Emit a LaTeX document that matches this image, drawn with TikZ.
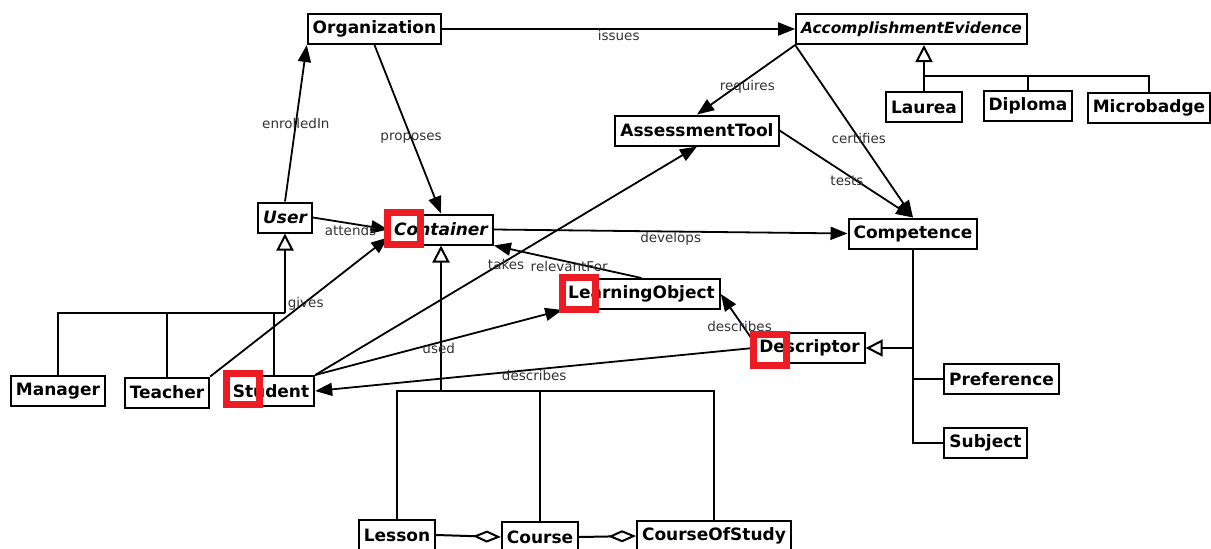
\documentclass[tikz,border=0pt]{standalone}
\usepackage{fontspec}
\setmainfont{DejaVu Sans}
\usepackage{tikz}
\usetikzlibrary{arrows.meta,calc}
\definecolor{ink}{HTML}{000000}
\definecolor{lbltext}{HTML}{333333}
\definecolor{hilite}{HTML}{ED1C24}
\tikzset{
  cls/.style={draw=ink, line width=2pt, fill=white, font=\fontsize{17}{20}\selectfont\bfseries,
    minimum height=30pt, inner xsep=5pt, inner ysep=0pt},
  abscls/.style={cls, font=\fontsize{17}{20}\selectfont\bfseries\itshape},
  assoc/.style={draw=ink, line width=1.8pt, -{Triangle[length=17pt,width=13pt]}},
  gen/.style={draw=ink, line width=2pt, -{Triangle[open,length=17pt,width=17pt,fill=white]}},
  tree/.style={draw=ink, line width=2pt},
  agg/.style={draw=ink, line width=2pt, -{Diamond[open,length=28pt,width=12pt,fill=white]}},
  lbl/.style={text=lbltext, font=\fontsize{13.5}{15}\selectfont, inner sep=0pt},
  hl/.style={draw=hilite, line width=7pt}
}

\begin{document}
\begin{tikzpicture}[x=1pt, y=-1pt]
  \useasboundingbox (0,0) rectangle (1211,549);
  % classes
  \node[cls] (Org) at (374.5,29) {Organization};
  \node[abscls, font=\fontsize{15.4}{18}\selectfont\bfseries\itshape, minimum width=229pt] (AE) at (911.5,29) {AccomplishmentEvidence};
  \node[cls] (Laurea) at (924,107) {Laurea};
  \node[cls] (Diploma) at (1028,105.5) {Diploma};
  \node[cls] (Microbadge) at (1149,107.5) {Microbadge};
  \node[cls] (AT) at (697,130.5) {AssessmentTool};
  \node[abscls] (User) at (285,217.5) {User};
  \node[abscls] (Container) at (441,229.5) {Container};
  \node[cls] (Competence) at (913,233.5) {Competence};
  \node[cls] (LO) at (641.5,294) {LearningObject};
  \node[cls] (Descriptor) at (809.5,348) {Descriptor};
  \node[cls] (Manager) at (58,391) {Manager};
  \node[cls] (Teacher) at (167,392.5) {Teacher};
  \node[cls] (Student) at (271,391) {Student};
  \node[cls] (Preference) at (1001.5,379) {Preference};
  \node[cls] (Subject) at (985.5,443) {Subject};
  \node[cls] (Lesson) at (397,535) {Lesson};
  \node[cls] (Course) at (540,537) {Course};
  \node[cls] (CoS) at (714,536) {CourseOfStudy};

  % generalisations
  \coordinate (uJ) at (285,313);
  \draw[gen] (uJ) -- (User.south);
  \draw[tree] (Manager.north) |- (uJ);
  \draw[tree] (Teacher.north) -- (Teacher.north |- uJ);
  \draw[tree] ([xshift=3pt]Student.north) -- ([xshift=3pt]Student.north |- uJ);

  \coordinate (cJ) at (441,391);
  \draw[gen] (cJ) -- (Container.south);
  \draw[tree] (Lesson.north) |- (cJ);
  \draw[tree] (Course.north) |- (cJ);
  \draw[tree] (CoS.north) |- (cJ);

  \coordinate (aJ) at (924,76);
  \draw[gen] (aJ) -- (aJ |- AE.south);
  \draw[tree] (Laurea.north) -- (aJ);
  \draw[tree] (Diploma.north) |- (aJ);
  \draw[tree] (Microbadge.north) |- (aJ);

  \coordinate (dJ) at (Competence.south |- Descriptor.east);
  \draw[gen] (dJ) -- (Descriptor.east);
  \draw[tree] (Competence.south) |- (Subject.west);
  \draw[tree] (Preference.west) -- (Preference.west -| dJ);

  % aggregations
  \draw[agg] (Lesson.east) -- (Course.west);
  \draw[agg] (Course.east) -- (CoS.west);

  % associations
  \draw[assoc] (Org.east) -- node[lbl, pos=0.5, yshift=-6pt] {issues} (AE.west);
  \draw[assoc] (User.north) -- node[lbl, pos=0.5] {enrolledIn} (Org.south west);
  \draw[assoc] (Org.south) -- node[lbl, pos=0.55] {proposes} (Container.north);
  \draw[assoc] (User.east) -- node[lbl, pos=0.5, yshift=-7pt] {attends} (Container.west);
  \draw[assoc] (Teacher.north east) -- node[lbl, pos=0.52, xshift=3pt] {gives} ([yshift=-8pt]Container.west);
  \draw[assoc] (Student.north east) -- node[lbl, pos=0.5, yshift=-4pt] {takes} (AT.south);
  \draw[assoc] (Student.north east) -- node[lbl, pos=0.5, yshift=-6pt] {used} (LO.south west);
  \draw[assoc] (Descriptor.west) -- node[lbl, pos=0.5, yshift=-6pt] {describes} (Student.east);
  \draw[assoc] ([yshift=7pt]Descriptor.west) -- node[lbl, pos=0.3, xshift=-4pt] {describes} (LO.east);
  \draw[assoc] (LO.north) -- node[lbl, pos=0.49, yshift=-4pt] {relevantFor} (Container.south east);
  \draw[assoc] (Container.east) -- node[lbl, pos=0.5, yshift=-7pt] {develops} (Competence.west);
  \draw[assoc] (AE.south west) -- node[lbl, pos=0.6, xshift=11pt] {requires} (AT.north);
  \draw[assoc] (AE.south west) -- node[lbl, pos=0.54] {certifies} (Competence.north);
  \draw[assoc] (AT.east) -- node[lbl, pos=0.58, xshift=-10pt] {tests} (Competence.north);

  % highlight marks
  \draw[hl] (387.5,212.5) rectangle (420.5,244.5);
  \draw[hl] (226.5,373.5) rectangle (259.5,404.5);
  \draw[hl] (562.5,277.5) rectangle (595.5,309.5);
  \draw[hl] (753.5,334.5) rectangle (786.5,365.5);
\end{tikzpicture}
\end{document}
